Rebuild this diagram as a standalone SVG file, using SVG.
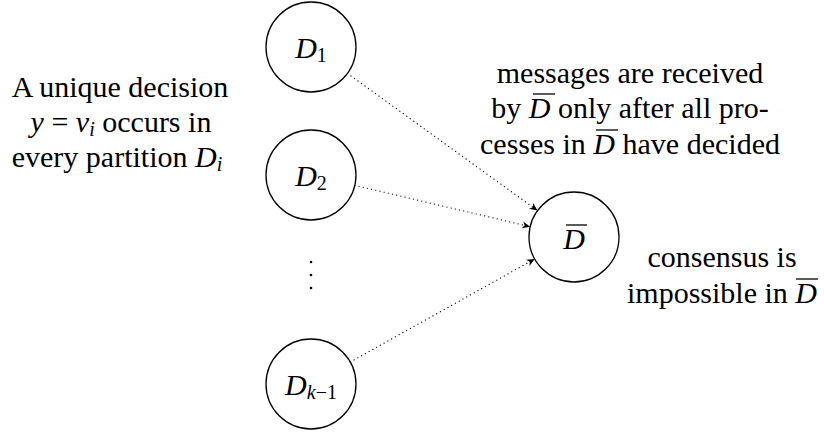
<svg xmlns="http://www.w3.org/2000/svg" width="824" height="434" viewBox="0 0 824 434" font-family="'Times New Roman', 'Liberation Serif', serif">
<g id="connectors">
<g fill="none" stroke="#000" stroke-width="1.2" stroke-dasharray="0.1 4.2" stroke-linecap="round">
<line x1="347.5" y1="73.4" x2="533" y2="207.3"/>
<line x1="354.8" y1="185.3" x2="524.7" y2="225.4"/>
<line x1="350.3" y1="362" x2="529.8" y2="261.7"/>
</g>
<g fill="#000" stroke="none">
<path d="M537.5,210.6 L528.96,208.75 L532.96,207.32 L533.06,203.07 Z"/>
<path d="M530.2,226.7 L521.62,228.28 L524.75,225.42 L523.22,221.46 Z"/>
<path d="M534.7,259 L529.43,265.96 L529.81,261.73 L526.01,259.85 Z"/>
</g>
</g>
<g id="D1">
<circle cx="311" cy="47" r="45" fill="none" stroke="#000" stroke-width="1.3"/>
<text x="311" y="58" font-family="Times New Roman" font-size="30" text-anchor="middle"><tspan font-style="italic">D</tspan><tspan font-size="20" dy="4">1</tspan></text>
</g>
<g id="D2">
<circle cx="311" cy="175" r="45" fill="none" stroke="#000" stroke-width="1.3"/>
<text x="311" y="186" font-family="Times New Roman" font-size="30" text-anchor="middle"><tspan font-style="italic">D</tspan><tspan font-size="20" dy="4">2</tspan></text>
</g>
<g id="dots">
<circle cx="311" cy="262" r="1.3"/>
<circle cx="311" cy="275" r="1.3"/>
<circle cx="311" cy="288" r="1.3"/>
</g>
<g id="Dk1">
<circle cx="311" cy="384" r="45" fill="none" stroke="#000" stroke-width="1.3"/>
<text x="311" y="395" font-family="Times New Roman" font-size="30" text-anchor="middle"><tspan font-style="italic">D</tspan><tspan font-size="20" font-style="italic" dy="4">k</tspan><tspan font-size="20">−1</tspan></text>
</g>
<g id="Dbar">
<circle cx="574" cy="237" r="45" fill="none" stroke="#000" stroke-width="1.3"/>
<text x="574" y="249" font-family="Times New Roman" font-size="30" font-style="italic" text-anchor="middle">D</text>
<line x1="566" y1="225" x2="587" y2="225" stroke="#000" stroke-width="1.3"/>
</g>
<g id="left-label">
<text x="120" y="97" font-family="Times New Roman" font-size="30" text-anchor="middle">A unique decision</text>
<text x="121" y="132" font-family="Times New Roman" font-size="30" text-anchor="middle"><tspan font-style="italic">y</tspan> = <tspan font-style="italic">v</tspan><tspan font-size="20" font-style="italic" dy="4">i</tspan><tspan dy="-4"> occurs in</tspan></text>
<text x="117" y="167" font-family="Times New Roman" font-size="30" text-anchor="middle">every partition <tspan font-style="italic">D</tspan><tspan font-size="20" font-style="italic" dy="4">i</tspan></text>
</g>
<g id="top-label">
<text x="630" y="83" font-family="Times New Roman" font-size="30" text-anchor="middle">messages are received</text>
<text x="630" y="118" font-family="Times New Roman" font-size="30" text-anchor="middle">by <tspan font-style="italic">D</tspan> only after all pro-</text>
<line x1="533" y1="94" x2="555" y2="94" stroke="#000" stroke-width="1.3"/>
<text x="630" y="154" font-family="Times New Roman" font-size="30" text-anchor="middle">cesses in <tspan font-style="italic">D</tspan> have decided</text>
<line x1="596" y1="130" x2="618" y2="130" stroke="#000" stroke-width="1.3"/>
</g>
<g id="right-label">
<text x="722" y="267" font-family="Times New Roman" font-size="30" text-anchor="middle">consensus is</text>
<text x="722" y="303" font-family="Times New Roman" font-size="30" text-anchor="middle">impossible in <tspan font-style="italic">D</tspan></text>
<line x1="796" y1="279" x2="818" y2="279" stroke="#000" stroke-width="1.3"/>
</g>
</svg>
